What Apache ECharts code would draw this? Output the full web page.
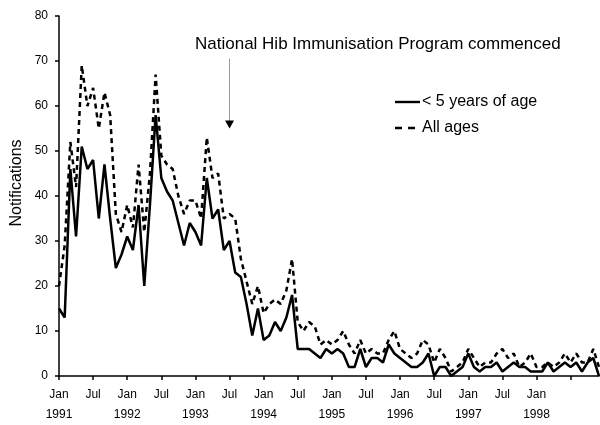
<!DOCTYPE html>
<html>
<head>
<meta charset="utf-8">
<script src="https://cdn.jsdelivr.net/npm/echarts@6/dist/echarts.min.js"></script>
<style>
  html, body { margin: 0; padding: 0; background: #fff; }
  #chart { width: 600px; height: 425px; }
</style>
</head>
<body>
<div id="chart"></div>
<script>
// monthly notifications, Jan 1991 - Dec 1998
const years = [1991, 1992, 1993, 1994, 1995, 1996, 1997, 1998];
const monthNames = ['Jan', 'Feb', 'Mar', 'Apr', 'May', 'Jun', 'Jul', 'Aug', 'Sep', 'Oct', 'Nov', 'Dec'];
const categories = [];
years.forEach(y => monthNames.forEach(m => categories.push(m + ' ' + y)));

// one label every 6 months
const tickLabels = [
  'Jan\n1991', 'Jul', 'Jan\n1992', 'Jul', 'Jan\n1993', 'Jul', 'Jan\n1994', 'Jul',
  'Jan\n1995', 'Jul', 'Jan\n1996', 'Jul', 'Jan\n1997', 'Jul', 'Jan\n1998', ''
];

const underFive = [
  15, 13, 46, 31, 51, 46, 48, 35, 47, 35, 24, 27,
  31, 28, 38, 20, 38, 58, 44, 41, 39, 34, 29, 34,
  32, 29, 44, 35, 37, 28, 30, 23, 22, 16, 9, 15,
  8, 9, 12, 10, 13, 18, 6, 6, 6, 5, 4, 6,
  5, 6, 5, 2, 2, 6, 2, 4, 4, 3, 7, 5,
  4, 3, 2, 2, 3, 5, 0, 2, 2, 0, 1, 2,
  5, 2, 1, 2, 2, 3, 1, 2, 3, 2, 2, 1,
  1, 1, 3, 1, 2, 3, 2, 3, 1, 3, 4, 0
];

const allAges = [
  20, 29, 52, 42, 69, 60, 64, 55, 63, 58, 36, 32,
  38, 33, 47, 32, 45, 67, 49, 47, 46, 40, 36, 39,
  39, 35, 53, 44, 45, 35, 36, 35, 26, 21, 16, 20,
  14, 16, 17, 16, 19, 26, 12, 10, 12, 11, 7, 8,
  7, 8, 10, 7, 5, 8, 5, 6, 5, 5, 8, 10,
  6, 5, 4, 5, 8, 7, 3, 6, 4, 1, 2, 3,
  6, 4, 2, 3, 3, 5, 6, 4, 5, 2, 3, 5,
  2, 2, 3, 2, 3, 5, 3, 5, 3, 3, 6, 2
];

const yTicks = [0, 10, 20, 30, 40, 50, 60, 70, 80];
const programStart = 'Jul 1993';

const font = '"Liberation Sans", Arial, sans-serif';
const chart = echarts.init(document.getElementById('chart'));

chart.setOption({
  animation: false,
  backgroundColor: '#fff',
  grid: { left: 59, right: 1, top: 16, bottom: 49 },
  legend: {
    orient: 'vertical',
    left: 395,
    top: 94,
    padding: 0,
    itemWidth: 25,
    itemHeight: 14,
    itemGap: 10,
    textStyle: { fontFamily: font, fontSize: 16, color: '#000', padding: [0, 0, 0, -3] },
    data: [
      { name: '< 5 years of age', icon: 'path://M0,0 L25,0 L25,2.4 L0,2.4 Z' },
      { name: 'All ages', icon: 'path://M0,0 L7,0 L7,2.4 L0,2.4 Z M13,0 L20,0 L20,2.4 L13,2.4 Z M24.98,0 L25,0 L25,0.02 Z' }
    ]
  },
  graphic: [
    {
      type: 'text',
      left: 195,
      top: 36,
      style: { text: 'National Hib Immunisation Program commenced', fontFamily: font, fontSize: 17, fill: '#000' }
    },
    {
      type: 'text',
      x: 17,
      y: 183,
      rotation: Math.PI / 2,
      style: { text: 'Notifications', fontFamily: font, fontSize: 16, fill: '#000', align: 'center', verticalAlign: 'middle' }
    }
  ],
  xAxis: {
    type: 'category',
    data: categories,
    boundaryGap: false,
    axisLine: { lineStyle: { color: '#000', width: 1.5 } },
    axisTick: { interval: 5, length: 4, lineStyle: { color: '#000', width: 1.5 } },
    axisLabel: {
      interval: 5,
      margin: 9,
      color: '#000',
      fontFamily: font,
      fontSize: 12,
      lineHeight: 20,
      formatter: (v, i) => tickLabels[Math.round(i / 6)]
    },
    splitLine: { show: false }
  },
  yAxis: {
    type: 'value',
    min: yTicks[0],
    max: yTicks[yTicks.length - 1],
    interval: 10,
    axisLine: { show: true, lineStyle: { color: '#000', width: 1.5 } },
    axisTick: { show: true, length: 4, lineStyle: { color: '#000', width: 1.5 } },
    axisLabel: { color: '#000', fontFamily: font, fontSize: 12, margin: 11 },
    splitLine: { show: false }
  },
  series: [
    {
      name: '< 5 years of age',
      type: 'line',
      data: underFive,
      symbol: 'none',
      color: '#000',
      lineStyle: { color: '#000', width: 2.5 },
      z: 3
    },
    {
      name: 'All ages',
      type: 'line',
      data: allAges,
      symbol: 'none',
      color: '#000',
      lineStyle: { color: '#000', width: 2.5, type: [5, 4] },
      z: 2,
      markLine: {
        silent: true,
        symbol: ['none', 'none'],
        label: { show: false },
        lineStyle: { color: '#999', width: 1, type: 'solid' },
        data: [[{ coord: [programStart, 70.5] }, { coord: [programStart, 56.5] }]]
      },
      markPoint: {
        silent: true,
        symbol: 'triangle',
        symbolSize: [9, 8],
        symbolRotate: 180,
        label: { show: false },
        itemStyle: { color: '#000' },
        data: [{ coord: [programStart, 55.9] }]
      }
    }
  ]
});
</script>
</body>
</html>
